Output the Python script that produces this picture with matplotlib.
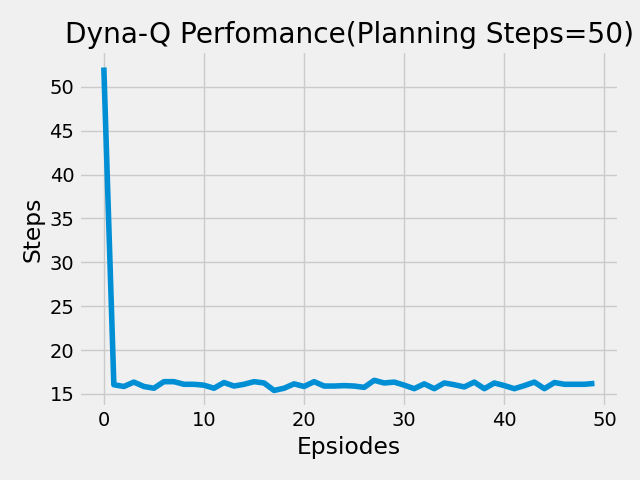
import matplotlib
matplotlib.use("Agg")
import matplotlib.pyplot as plt

plt.style.use("fivethirtyeight")

# steps per episode
steps = [52.2, 16.05, 15.85, 16.35, 15.85, 15.65, 16.4, 16.4, 16.1, 16.1,
         16.0, 15.65, 16.3, 15.9, 16.1, 16.4, 16.25, 15.4, 15.65, 16.15,
         15.85, 16.4, 15.9, 15.9, 15.95, 15.9, 15.75, 16.55, 16.25, 16.35,
         16.0, 15.6, 16.15, 15.6, 16.25, 16.05, 15.8, 16.35, 15.6, 16.25,
         15.95, 15.6, 15.95, 16.35, 15.6, 16.3, 16.1, 16.1, 16.1, 16.2]
episodes = list(range(len(steps)))

fig = plt.figure(figsize=(6.4, 4.8), dpi=100)
plt.plot(episodes, steps)
plt.title("Dyna-Q Perfomance(Planning Steps=50)")
plt.xlabel("Epsiodes")
plt.ylabel("Steps")
plt.tight_layout()
plt.savefig("out.png")
